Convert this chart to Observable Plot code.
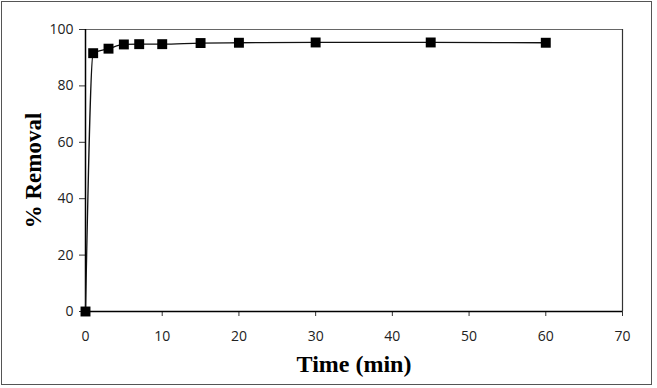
<!DOCTYPE html>
<html><head><meta charset="utf-8">
<script src="https://cdn.jsdelivr.net/npm/d3@7"></script>
<script src="https://cdn.jsdelivr.net/npm/@observablehq/plot@0.6"></script>
<style>
body{margin:0;background:#fff;}
#wrap{position:relative;width:657px;height:388px;}
#border{position:absolute;left:1px;top:1px;width:651px;height:384px;border:1.5px solid #555;box-sizing:border-box;}
#chart{position:absolute;left:0;top:0;}
</style></head>
<body>
<div id="wrap"><div id="border"></div><div id="chart"></div></div>
<script>
const time = [0, 1, 3, 5, 7, 10, 15, 20, 30, 45, 60];
const removal = [0, 91.6, 93.2, 94.7, 94.8, 94.8, 95.2, 95.3, 95.4, 95.4, 95.3];
const xTicks = [0, 10, 20, 30, 40, 50, 60, 70];
const yTicks = [0, 20, 40, 60, 80, 100];
const data = time.map((t, i) => ({t, r: removal[i]}));

const chart = Plot.plot({
  width: 657, height: 388,
  marginLeft: 85, marginRight: 35, marginTop: 29, marginBottom: 77,
  style: {fontFamily: "'Open Sans', sans-serif", fontSize: "14px", color: "#222", background: "transparent"},
  x: {domain: [0, 70], ticks: xTicks, label: null},
  y: {domain: [0, 100], ticks: yTicks, label: null},
  marks: [
    Plot.ruleY([100], {stroke: "#666", strokeWidth: 1.2}),
    Plot.ruleX([70], {stroke: "#333", strokeWidth: 1.2}),
    Plot.axisX({ticks: xTicks, tickSize: 5, tickPadding: 15, stroke: "#333", fill: "#222"}),
    Plot.axisY({ticks: yTicks, tickSize: 6, tickPadding: 6, stroke: "#333", fill: "#222"}),
    Plot.ruleX([0], {stroke: "#000", strokeWidth: 1.5}),
    Plot.ruleY([0], {stroke: "#000", strokeWidth: 1.5}),
    Plot.line(data, {x: "t", y: "r", curve: "monotone-x", stroke: "#111", strokeWidth: 1.3}),
    Plot.dot(data, {x: "t", y: "r", symbol: "square", r: 5.6, fill: "#000", stroke: "none"}),
    Plot.text(["Time (min)"], {frameAnchor: "bottom", dy: 60, fontFamily: "'Liberation Serif', 'Times New Roman', serif", fontWeight: "bold", fontSize: 24, fill: "#000"}),
    Plot.text(["% Removal"], {frameAnchor: "left", dx: -52, rotate: -90, textAnchor: "middle", fontFamily: "'Liberation Serif', 'Times New Roman', serif", fontWeight: "bold", fontSize: 23, fill: "#000"})
  ]
});
document.getElementById("chart").appendChild(chart);
</script>
</body></html>
